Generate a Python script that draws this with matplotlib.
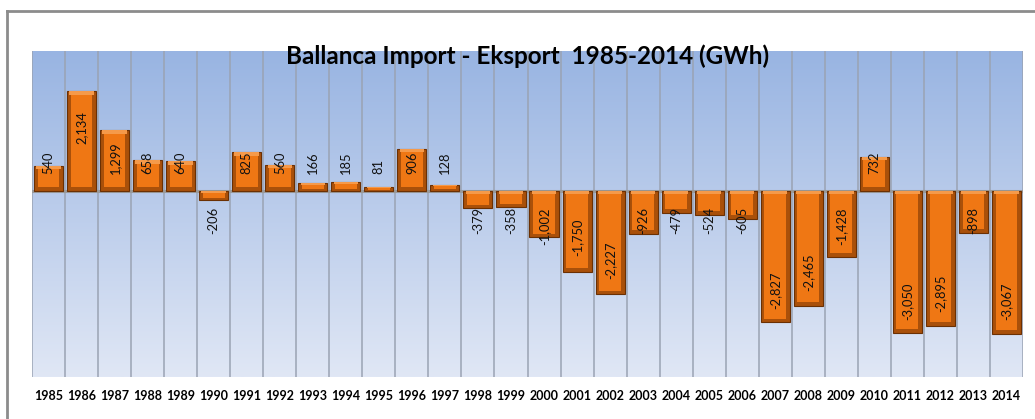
import numpy as np
import matplotlib
matplotlib.use('Agg')
import matplotlib.pyplot as plt
from matplotlib.lines import Line2D

plt.rcParams['font.family'] = ['Lato', 'DejaVu Sans']

years = list(range(1985, 2015))
balance = [540, 2134, 1299, 658, 640, -206, 825, 560, 166, 185,
           81, 906, 128, -379, -358, -1002, -1750, -2227, -926, -479,
           -524, -605, -2827, -2465, -1428, 732, -3050, -2895, -898, -3067]
title = 'Ballanca Import - Eksport  1985-2014 (GWh)'

fig = plt.figure(figsize=(10.35, 4.19), dpi=100)
ax = fig.add_axes([32/1035, 42/419, 991/1035, 326/419])

x = np.arange(len(years))
ax.set_xlim(-0.5, len(years) - 0.5)
ax.set_ylim(-4000, 3000)

# gradient background of the plot area
grad = np.linspace(0, 1, 256).reshape(-1, 1)
top = np.array([152, 180, 226]) / 255.
bot = np.array([224, 231, 245]) / 255.
bg = top + (bot - top) * grad[:, :, None]
ax.imshow(bg, extent=[0, 1, 0, 1], transform=ax.transAxes,
          aspect='auto', zorder=0)

# category separators
for b in np.arange(-0.5, len(years), 1.0):
    ax.axvline(b, color='#9aa3b3', lw=1.1, zorder=1)
ax.axhline(0, color='#9a9a9a', lw=2.2, zorder=2)

# bevelled bars: dark outer bar + lighter inner face
vals = np.array(balance, dtype=float)
ax.bar(x, vals, width=0.88, color='#A9500A', edgecolor='#6b3003',
       linewidth=0.8, zorder=3)
inset = np.minimum(80, np.abs(vals) * 0.25)
ax.bar(x, vals - 2 * np.sign(vals) * inset, bottom=np.sign(vals) * inset,
       width=0.66, color='#EF7714', linewidth=0, zorder=3.5)
# light rim on the upper end of every bar
ax.bar(x, inset, bottom=np.maximum(vals, 0) - inset,
       width=0.74, color='#F59A4A', linewidth=0, zorder=3.4)

# data labels, rotated like in the excel chart
for xi, v in zip(x, balance):
    off = max(355, 1.046 * abs(v) - 1230)
    if v >= 0:
        ax.text(xi, off, '{:,}'.format(v), rotation=90, ha='center',
                va='bottom', fontsize=9.3, color='#111111', zorder=4)
    else:
        ax.text(xi, -off, '{:,}'.format(v), rotation=90, ha='center',
                va='top', fontsize=9.3, color='#111111', zorder=4)

ax.set_xticks(x)
ax.set_xticklabels([str(y) for y in years], fontsize=9, fontweight='bold')
ax.tick_params(axis='x', length=0, pad=9)
ax.set_yticks([])
for s in ax.spines.values():
    s.set_visible(False)

ax.set_title(title, fontsize=17.5, fontweight='bold', y=0.96, pad=0)

# chart frame (left and top edges only visible)
fig.add_artist(Line2D([7/1035, 1], [1 - 11/419, 1 - 11/419], color='#8c8c8c', lw=2))
fig.add_artist(Line2D([7/1035, 7/1035], [0, 1 - 11/419], color='#8c8c8c', lw=2))

fig.savefig('out.png', dpi=100)
